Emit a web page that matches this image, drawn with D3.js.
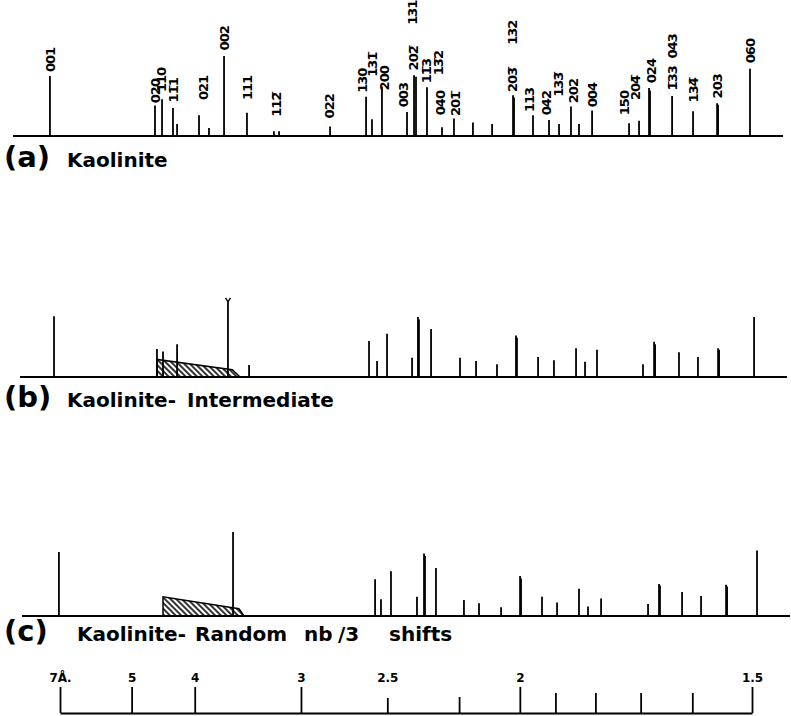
<!DOCTYPE html>
<html>
<head>
<meta charset="utf-8">
<script src="https://cdn.jsdelivr.net/npm/d3@7"></script>
<style>
body { margin: 0; background: #fff; }
svg { display: block; }
.lbl { font-family: "DejaVu Sans", sans-serif; font-weight: bold; font-size: 13px; letter-spacing: -1px; }
.ttl { font-family: "DejaVu Sans", sans-serif; font-weight: bold; }
</style>
</head>
<body>
<script>
/* Cu K-alpha wavelength, used to turn d-spacings into 2-theta */
var LAMBDA = 1.5418;

/* (a) kaolinite : 2-theta (deg) and relative intensity */
var kaoTheta = [11.93, 19.40, 19.90, 20.68, 20.97, 22.53, 23.24, 24.31, 25.94, 27.86, 28.22,
    31.85, 34.41, 34.83, 35.54, 37.32, 37.82, 37.96, 38.74, 39.81, 40.66, 42.01, 43.37,
    44.86, 44.93, 46.28, 47.42, 48.13, 48.98, 49.55, 50.48, 53.11, 53.82, 54.53, 54.60,
    56.17, 57.66, 59.37, 59.44, 61.71];
var kaoInt = [75, 38, 46, 35, 15, 26, 10, 100, 29, 6, 6,
    12, 49, 21, 62, 30, 76, 74, 61, 11, 22, 17, 15,
    51, 48, 26, 20, 15, 37, 15, 32, 16, 19, 60, 57,
    50, 31, 41, 39, 84];

/* (b) kaolinite - intermediate */
var intTheta = [12.22, 19.54, 19.97, 20.97, 24.59, 26.09, 34.62, 35.19, 35.90, 37.68, 38.10, 38.17,
    39.03, 41.09, 42.23, 43.72, 45.07, 45.14, 46.64, 47.77, 49.34, 49.98, 50.83, 54.10,
    54.89, 54.96, 56.66, 58.01, 59.44, 59.51, 62.00];
var intInt = [76, 35, 32, 41, 94, 15, 45, 20, 54, 24, 75, 72,
    60, 24, 20, 16, 52, 49, 25, 21, 36, 19, 34, 16,
    44, 41, 31, 25, 36, 34, 75];
var intHatch = [[19.54, 0], [19.54, 22], [24.9, 9], [25.45, 0]];

/* (c) kaolinite - random nb/3 shifts */
var rndTheta = [12.57, 24.95, 35.05, 35.47, 36.18, 38.03, 38.53, 38.60, 39.38, 41.37, 42.44,
    44.01, 45.36, 45.43, 46.92, 47.99, 49.55, 50.19, 51.12, 54.46, 55.24, 55.31, 56.88,
    58.23, 60.01, 60.08, 62.21];
var rndInt = [80, 105, 46, 21, 56, 24, 78, 75, 60, 20, 16,
    11, 50, 47, 24, 17, 34, 12, 22, 15, 40, 38, 30,
    25, 39, 37, 82];
var rndHatch = [[19.97, 0], [19.97, 24], [25.37, 9], [25.73, 0]];

/* hkl labels of pattern (a): text, 2-theta, level of the label foot */
var hklText = ["001", "020", "110", "11\u03051", "021", "002", "111", "112\u0305", "022", "130",
    "131\u0305", "200", "003", "202\u0305", "131", "11\u03053", "13\u03052", "040", "201\u0305",
    "203\u0305", "132", "113", "042", "133\u0305", "202", "004", "150", "204\u0305", "024",
    "1\u030533", "043", "134\u0305", "203", "060"];
var hklTheta = [11.93, 19.40, 19.83, 20.68, 22.82, 24.31, 25.94, 28.01, 31.77, 34.12,
    34.83, 35.69, 37.04, 37.75, 37.68, 38.67, 39.53, 39.67, 40.73,
    44.79, 44.79, 46.00, 47.21, 48.06, 49.13, 50.48, 52.75, 53.53, 54.67,
    56.17, 56.17, 57.66, 59.37, 61.71];
var hklLevel = [80, 41, 55, 42, 45, 107, 45, 24, 22, 54,
    74, 57, 36, 82, 139, 66, 76, 26, 25,
    55, 114, 30, 26, 49, 41, 36, 26, 45, 66,
    57, 97, 42, 47, 91];

/* panel captions */
var tags = ["(a)", "(b)", "(c)"];
var names = [["Kaolinite"], ["Kaolinite-", "Intermediate"],
    ["Kaolinite-", "Random", "nb", "/3", "shifts"]];

/* d-spacing scale (angstrom) */
var dMajor = [7, 5, 4, 3, 2.5, 2, 1.5];
var dMajorText = ["7\u00c5.", "5", "4", "3", "2.5", "2", "1.5"];
var dMinor = [2.2, 1.9, 1.8, 1.7, 1.6];

function twoTheta(d) {
    return 2 * Math.asin(LAMBDA / (2 * d)) * 180 / Math.PI;
}

var W = 791, H = 716;
var svg = d3.select("body").append("svg")
    .attr("width", W).attr("height", H);

var defs = svg.append("defs");
defs.append("pattern")
    .attr("id", "hatch")
    .attr("patternUnits", "userSpaceOnUse")
    .attr("width", 4).attr("height", 4)
    .attr("patternTransform", "rotate(-45)")
    .append("line")
    .attr("x1", 1).attr("y1", 0).attr("x2", 1).attr("y2", 4)
    .attr("stroke", "#000").attr("stroke-width", 1.6);

var x = d3.scaleLinear()
    .domain([twoTheta(7), twoTheta(1.5)])
    .range([60, 752]);

var panels = [
    {theta: kaoTheta, inten: kaoInt, hatch: null, base: 136, x0: 13, x1: 783,
     ty: 167, wordX: [67]},
    {theta: intTheta, inten: intInt, hatch: intHatch, base: 377, x0: 20, x1: 787,
     ty: 407, wordX: [67, 187]},
    {theta: rndTheta, inten: rndInt, hatch: rndHatch, base: 616, x0: 22, x1: 790,
     ty: 641, wordX: [77, 195, 304, 338, 389]}
];

panels.forEach(function(p, k) {
    var y = d3.scaleLinear().domain([0, 100]).range([p.base, p.base - 80]);
    var g = svg.append("g").attr("class", "panel-" + k);

    if (p.hatch) {
        g.append("path")
            .attr("d", d3.line()
                .x(function(d) { return x(d[0]); })
                .y(function(d) { return y(d[1]); })(p.hatch))
            .attr("fill", "url(#hatch)")
            .attr("stroke", "#000")
            .attr("stroke-width", 1.5);
    }

    g.append("line")
        .attr("x1", p.x0).attr("x2", p.x1)
        .attr("y1", p.base).attr("y2", p.base)
        .attr("stroke", "#000").attr("stroke-width", 2.2);

    g.selectAll("line.peak")
        .data(d3.range(p.theta.length))
        .enter().append("line")
        .attr("class", "peak")
        .attr("x1", function(i) { return x(p.theta[i]); })
        .attr("x2", function(i) { return x(p.theta[i]); })
        .attr("y1", p.base)
        .attr("y2", function(i) { return y(p.inten[i]); })
        .attr("stroke", "#000").attr("stroke-width", 1.8);

    g.append("text").attr("class", "ttl")
        .attr("x", 4).attr("y", p.ty)
        .style("font-size", "29px")
        .text(tags[k]);
    var last = names[k].length - 1;
    var t = g.append("text").attr("class", "ttl")
        .attr("y", p.ty)
        .style("font-size", "20px");
    t.selectAll("tspan")
        .data(names[k])
        .enter().append("tspan")
        .attr("x", function(d, i) { return p.wordX[i]; })
        .text(function(d, i) { return d + (i < last ? " " : ""); });

    if (k === 0) {
        g.selectAll("text.lbl")
            .data(d3.range(hklText.length))
            .enter().append("text")
            .attr("class", "lbl")
            .attr("transform", function(i) {
                return "translate(" + x(hklTheta[i]) + "," + y(hklLevel[i]) + ") rotate(-90)";
            })
            .attr("dy", "0.36em")
            .text(function(i) { return hklText[i]; });
    }
});

/* small fork on the off-scale line of (b) */
(function() {
    var y = d3.scaleLinear().domain([0, 100]).range([377, 297]);
    var px = x(intTheta[4]), py = y(intInt[4]);
    svg.append("path")
        .attr("d", "M" + (px - 2.5) + "," + (py - 4) + "L" + px + "," + py + "L" + (px + 2.5) + "," + (py - 4))
        .attr("fill", "none").attr("stroke", "#000").attr("stroke-width", 1.4);
})();

/* d-spacing axis at the bottom */
var axisY = 713;
var major = d3.axisTop(x)
    .tickValues(dMajor.map(twoTheta))
    .tickFormat(function(t, i) { return dMajorText[i]; })
    .tickSize(26)
    .tickSizeOuter(0)
    .tickPadding(5);
var gA = svg.append("g")
    .attr("transform", "translate(0," + axisY + ")")
    .call(major);
gA.select(".domain").attr("stroke-width", 2);
gA.selectAll(".tick line").attr("stroke-width", 1.8)
    .filter(function(t, i) { return dMajor[i] === 2.5; })
    .attr("y2", -15);
gA.selectAll(".tick text")
    .attr("font-family", "DejaVu Sans, sans-serif")
    .attr("font-weight", "bold")
    .attr("font-size", 12)
    .attr("fill", "#000");

var minor = d3.axisTop(x)
    .tickValues(dMinor.map(twoTheta))
    .tickFormat("")
    .tickSize(20)
    .tickSizeOuter(0);
var gM = svg.append("g")
    .attr("transform", "translate(0," + axisY + ")")
    .call(minor);
gM.select(".domain").remove();
gM.selectAll(".tick line").attr("stroke-width", 1.8)
    .filter(function(t, i) { return dMinor[i] === 2.2; })
    .attr("y2", -16);
</script>
</body>
</html>
